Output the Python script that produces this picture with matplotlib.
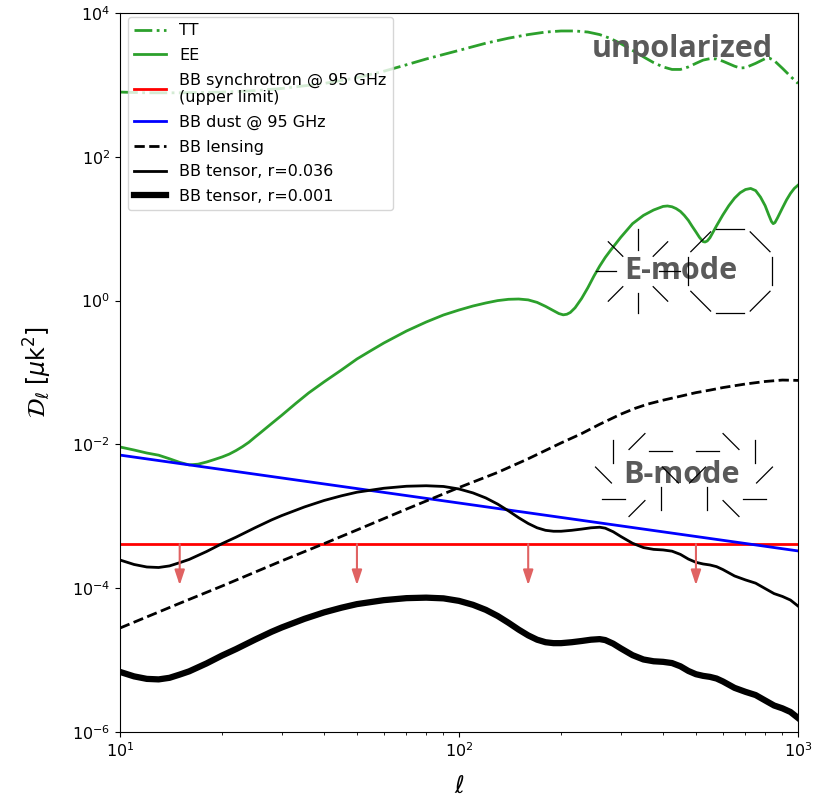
import numpy as np
import matplotlib
matplotlib.use("Agg")
import matplotlib.pyplot as plt
from matplotlib.lines import Line2D
from matplotlib.transforms import IdentityTransform
from matplotlib.ticker import NullLocator

# ---------------------------------------------------------------- data
# EE spectrum, log10 of D_ell [muK^2]
ee_ell = [10, 11, 12, 13, 14, 15, 16, 17, 18, 19, 20, 21, 22, 23, 24, 25,
          26, 28, 30, 33, 36, 40, 45, 50, 55, 60, 70, 80, 90, 100, 110, 120,
          130, 140, 150, 160, 170, 180, 190, 197, 203, 208, 213, 220, 230,
          240, 250, 260, 270, 280, 300, 325, 350, 375, 400, 412, 425, 437,
          450, 462, 475, 487, 500, 512, 525, 532, 540, 550, 575, 600, 625,
          650, 675, 700, 725, 750, 775, 800, 820, 835, 845, 855, 870, 900,
          925, 950, 975, 1000]
ee_log10 = [-2.036, -2.078, -2.120, -2.150, -2.200, -2.250, -2.285, -2.275,
            -2.245, -2.210, -2.175, -2.135, -2.085, -2.030, -1.970, -1.900,
            -1.835, -1.710, -1.595, -1.430, -1.285, -1.130, -0.965, -0.812,
            -0.695, -0.590, -0.423, -0.298, -0.200, -0.131, -0.075, -0.033,
            0.000, 0.018, 0.022, 0.010, -0.025, -0.080, -0.140, -0.180,
            -0.198, -0.190, -0.165, -0.100, 0.030, 0.180, 0.340, 0.480,
            0.600, 0.700, 0.880, 1.070, 1.185, 1.260, 1.310, 1.316, 1.305,
            1.280, 1.240, 1.185, 1.115, 1.035, 0.955, 0.880, 0.820, 0.815,
            0.830, 0.875, 1.040, 1.190, 1.320, 1.425, 1.500, 1.545, 1.560,
            1.530, 1.440, 1.320, 1.190, 1.100, 1.070, 1.085, 1.150, 1.290,
            1.400, 1.490, 1.560, 1.605]

# TT spectrum
tt_ell = [10, 12, 15, 20, 25, 30, 40, 50, 60, 70, 80, 100, 120, 140, 160,
          180, 200, 220, 240, 260, 280, 300, 325, 350, 375, 400, 425, 450,
          475, 500, 525, 550, 575, 600, 650, 675, 700, 750, 800, 825, 850,
          900, 950, 1000]
tt_log10 = [2.90, 2.89, 2.89, 2.90, 2.92, 2.95, 3.02, 3.10, 3.19, 3.28,
            3.36, 3.48, 3.58, 3.65, 3.70, 3.735, 3.75, 3.75, 3.735, 3.70,
            3.645, 3.575, 3.48, 3.39, 3.31, 3.25, 3.215, 3.215, 3.25, 3.30,
            3.345, 3.365, 3.36, 3.33, 3.26, 3.235, 3.24, 3.30, 3.365, 3.37,
            3.34, 3.23, 3.12, 3.02]

# primordial tensor BB for r = 0.036
tensor_ell = [10, 11, 12, 13, 14, 15, 16, 18, 20, 22, 25, 28, 30, 35, 40,
              45, 50, 60, 70, 80, 90, 100, 110, 120, 130, 140, 150, 160,
              170, 180, 190, 200, 215, 230, 245, 260, 270, 285, 300, 325,
              350, 375, 400, 425, 450, 475, 500, 525, 550, 575, 600, 650,
              700, 750, 800, 850, 900, 950, 1000]
tensor_log10 = [-3.608, -3.670, -3.705, -3.712, -3.690, -3.645, -3.600,
                -3.490, -3.380, -3.290, -3.160, -3.050, -2.990, -2.870,
                -2.780, -2.715, -2.665, -2.610, -2.582, -2.575, -2.585,
                -2.620, -2.675, -2.745, -2.830, -2.925, -3.020, -3.100,
                -3.160, -3.195, -3.208, -3.208, -3.195, -3.178, -3.160,
                -3.152, -3.165, -3.215, -3.280, -3.375, -3.435, -3.460,
                -3.468, -3.485, -3.530, -3.595, -3.640, -3.663, -3.677,
                -3.700, -3.740, -3.830, -3.885, -3.930, -4.005, -4.075,
                -4.115, -4.165, -4.248]
r_values = [0.036, 0.001]

# lensing BB
lens_ell = [10, 15, 20, 30, 40, 50, 70, 100, 130, 160, 200, 230, 260, 300,
            330, 360, 400, 450, 500, 550, 600, 700, 800, 900, 1000]
lens_log10 = [-4.554, -4.21, -3.97, -3.62, -3.38, -3.19, -2.90, -2.60,
              -2.39, -2.20, -1.98, -1.85, -1.72, -1.58, -1.50, -1.44,
              -1.385, -1.33, -1.28, -1.245, -1.21, -1.16, -1.125, -1.105,
              -1.11]

# foregrounds at 95 GHz
dust_ell = [10, 1000]
dust_dl = [7.1e-3, 3.3e-4]
sync_ell = [10, 1000]
sync_dl = 4.1e-4
arrow_ell = [15, 50, 160, 500]
arrow_tip = 1.1e-4

labels = ["TT", "EE", "BB synchrotron @ 95 GHz\n(upper limit)",
          "BB dust @ 95 GHz", "BB lensing", "BB tensor, r=0.036",
          "BB tensor, r=0.001"]

# ---------------------------------------------------------------- figure
W, H = 819, 799
fig = plt.figure(figsize=(W / 100, H / 100), dpi=100)
ax = fig.add_axes([120 / W, 1 - 732 / H, 678 / W, 719 / H])

green = "#2ca02c"
ax.plot(tt_ell, 10.0 ** np.array(tt_log10), color=green, lw=2, ls="-.",
        label=labels[0])
ax.plot(ee_ell, 10.0 ** np.array(ee_log10), color=green, lw=2,
        label=labels[1])
ax.plot(sync_ell, [sync_dl, sync_dl], color="red", lw=2, label=labels[2])
ax.plot(dust_ell, dust_dl, color="blue", lw=2, label=labels[3])
ax.plot(lens_ell, 10.0 ** np.array(lens_log10), color="black", lw=2,
        ls="--", label=labels[4])
tensor_unit = 10.0 ** np.array(tensor_log10) / r_values[0]
ax.plot(tensor_ell, tensor_unit * r_values[0], color="black", lw=2,
        label=labels[5])
ax.plot(tensor_ell, tensor_unit * r_values[1], color="black", lw=4.5,
        label=labels[6])

for l in arrow_ell:
    ax.annotate("", xy=(l, arrow_tip), xytext=(l, sync_dl),
                arrowprops=dict(arrowstyle="-|>,head_length=0.9,head_width=0.3",
                                color="#e06262", lw=1.5,
                                mutation_scale=10, shrinkA=0, shrinkB=0))

ax.set_xscale("log")
ax.set_yscale("log")
ax.set_xlim(10, 1000)
ax.set_ylim(1e-6, 1e4)
ax.set_yticks([1e-6, 1e-4, 1e-2, 1e0, 1e2, 1e4])
ax.yaxis.set_minor_locator(NullLocator())
ax.tick_params(labelsize=11.5)
ax.set_xlabel(r"$\ell$", fontsize=17, labelpad=10)
ax.set_ylabel(r"$\mathcal{D}_\ell\;[\mu\mathrm{k}^2]$", fontsize=17,
              labelpad=13)

ax.legend(loc="upper left", bbox_to_anchor=(0.0, 1.0 + 4 / 719),
          fontsize=11.5, labelspacing=0.6, handlelength=2.0)

# ---------------------------------------------------------------- labels
txt = dict(ha="center", va="baseline", fontsize=22, fontweight="bold",
           color="#5a5a5a", family=["Open Sans", "DejaVu Sans"],
           transform=ax.transAxes)
ax.text(0.829, 0.939, "unpolarized", **txt)
ax.text(0.827, 0.630, "E-mode", **txt)
ax.text(0.828, 0.346, "B-mode", **txt)


def burst(fx, fy, r_mid, length, twist_deg, n=8):
    """Ring of n short strokes around an axes-fraction centre (sizes in px).

    twist 0 gives radial rays, 90 gives a polygon outline."""
    cx, cy = ax.transAxes.transform((fx, fy))
    for k in range(n):
        a = np.deg2rad(360.0 * k / n)
        mx, my = cx + r_mid * np.cos(a), cy + r_mid * np.sin(a)
        b = a + np.deg2rad(twist_deg)
        dx, dy = 0.5 * length * np.cos(b), 0.5 * length * np.sin(b)
        fig.add_artist(Line2D([mx - dx, mx + dx], [my - dy, my + dy],
                              transform=IdentityTransform(), color="black",
                              lw=0.9))


burst(0.764, 0.6405, 31.75, 20.5, 0)
burst(0.9003, 0.6405, 42.0, 28.0, 90)
burst(0.7625, 0.3574, 33.5, 22.5, -45)
burst(0.9012, 0.3574, 33.5, 22.5, 45)

fig.savefig("out.png", dpi=100)
